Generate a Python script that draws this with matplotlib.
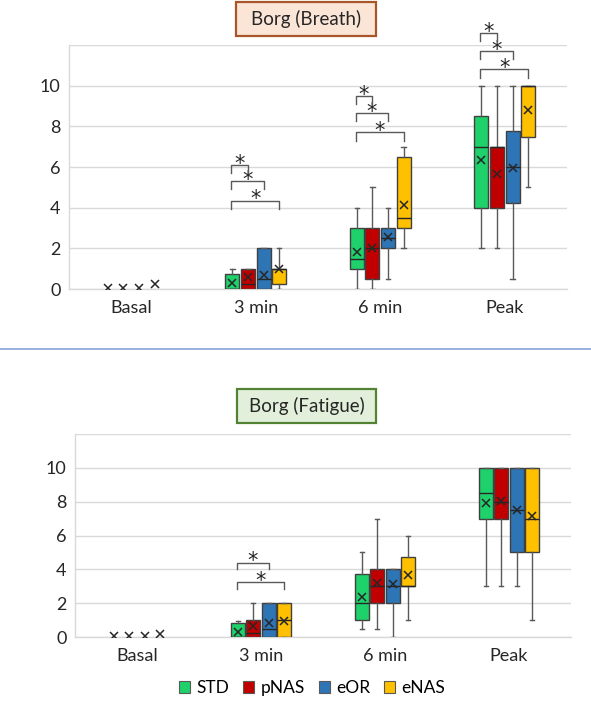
import matplotlib
matplotlib.use("Agg")
import matplotlib.pyplot as plt
from matplotlib.patches import Rectangle, Patch
from matplotlib.lines import Line2D

plt.rcParams['font.family'] = ['Lato', 'DejaVu Sans']

categories = ['Basal', '3 min', '6 min', 'Peak']
series = ['STD', 'pNAS', 'eOR', 'eNAS']
colors = ['#1ED16B', '#C00000', '#2E75B6', '#FFC000']

# ---- Borg (Breath) ----
breath_whislo = {'STD': [0, 0, 0, 2], 'pNAS': [0, 0, 0, 2], 'eOR': [0, 0, 0.5, 0.5], 'eNAS': [0, 0, 2, 5]}
breath_q1 = {'STD': [0, 0, 1, 4], 'pNAS': [0, 0, 0.5, 4], 'eOR': [0, 0, 2, 4.25], 'eNAS': [0, 0.25, 3, 7.5]}
breath_med = {'STD': [0, 0, 1.5, 7], 'pNAS': [0, 0.25, 2, 7], 'eOR': [0, 0.5, 2.5, 6], 'eNAS': [0, 1, 3.5, 10]}
breath_q3 = {'STD': [0, 0.75, 3, 8.5], 'pNAS': [0, 1, 3, 7], 'eOR': [0, 2, 3, 7.75], 'eNAS': [0, 1, 6.5, 10]}
breath_whishi = {'STD': [0, 1, 4, 10], 'pNAS': [0, 1, 5, 10], 'eOR': [0, 2, 4, 10], 'eNAS': [0, 2, 7, 10]}
breath_mean = {'STD': [0.03, 0.3, 1.8, 6.35], 'pNAS': [0.03, 0.6, 2.0, 5.65], 'eOR': [0.03, 0.7, 2.55, 5.95], 'eNAS': [0.25, 1.0, 4.15, 8.8]}
# significance brackets: (category, from, to, top level)
breath_sig = [('3 min', 'STD', 'pNAS', 6.1), ('3 min', 'STD', 'eOR', 5.3), ('3 min', 'STD', 'eNAS', 4.35),
              ('6 min', 'STD', 'pNAS', 9.5), ('6 min', 'STD', 'eOR', 8.65), ('6 min', 'STD', 'eNAS', 7.7),
              ('Peak', 'STD', 'pNAS', 12.6), ('Peak', 'STD', 'eOR', 11.7), ('Peak', 'STD', 'eNAS', 10.8)]

# ---- Borg (Fatigue) ----
fat_whislo = {'STD': [0, 0, 0.5, 3], 'pNAS': [0, 0, 0.5, 3], 'eOR': [0, 0, 0, 3], 'eNAS': [0, 0, 1, 1]}
fat_q1 = {'STD': [0, 0, 1, 7], 'pNAS': [0, 0, 2, 7], 'eOR': [0, 0, 2, 5], 'eNAS': [0, 0, 3, 5]}
fat_med = {'STD': [0, 0, 2, 8.5], 'pNAS': [0, 0.25, 3, 8], 'eOR': [0, 0.5, 3, 7.5], 'eNAS': [0, 1, 3, 7]}
fat_q3 = {'STD': [0, 0.85, 3.75, 10], 'pNAS': [0, 1, 4, 10], 'eOR': [0, 2, 4, 10], 'eNAS': [0, 2, 4.75, 10]}
fat_whishi = {'STD': [0, 0.95, 5, 10], 'pNAS': [0, 2, 7, 10], 'eOR': [0, 2, 4, 10], 'eNAS': [0, 2, 6, 10]}
fat_mean = {'STD': [0.05, 0.3, 2.35, 7.95], 'pNAS': [0.05, 0.65, 3.2, 8.05], 'eOR': [0.05, 0.8, 3.15, 7.5], 'eNAS': [0.15, 0.95, 3.65, 7.15]}
fat_sig = [('3 min', 'STD', 'eOR', 4.4), ('3 min', 'STD', 'eNAS', 3.25)]

yticks = [0, 2, 4, 6, 8, 10, 12]
ytick_labels = ['0', '2', '4', '6', '8', '10', '']

W, H = 591, 702
fig = plt.figure(figsize=(W / 100, H / 100), dpi=100)

OFFSET = 0.125
BOXW = 0.112
GRID = '#D9D9D9'
EDGE = '#404040'


def pos(ci, si):
    return ci + (si - 1.5) * OFFSET


def draw(ax, whislo, q1, med, q3, whishi, mean, sig, drop):
    for si, s in enumerate(series):
        stats, positions = [], []
        for ci in range(len(categories)):
            if whishi[s][ci] == 0 and q3[s][ci] == 0:
                continue
            stats.append(dict(whislo=whislo[s][ci], q1=q1[s][ci], med=med[s][ci],
                              q3=q3[s][ci], whishi=whishi[s][ci], fliers=[]))
            positions.append(pos(ci, si))
        ax.bxp(stats, positions=positions, widths=BOXW, patch_artist=True,
               showfliers=False, capwidths=0.035,
               boxprops=dict(facecolor=colors[si], edgecolor=EDGE, linewidth=1.0),
               medianprops=dict(color='#262626', linewidth=1.0),
               whiskerprops=dict(color='#595959', linewidth=1.0),
               capprops=dict(color='#595959', linewidth=1.0), zorder=3)
        ax.plot([pos(ci, si) for ci in range(len(categories))], mean[s], linestyle='none',
                marker='x', markersize=6, markeredgewidth=1.1, color='#262626', zorder=5)
    for cat, a, b, top in sig:
        ci = categories.index(cat)
        x0 = pos(ci, series.index(a)) - 0.01
        x1 = pos(ci, series.index(b))
        ax.plot([x0, x0, x1, x1], [top - drop, top, top, top - drop], color='#595959',
                linewidth=1.0, clip_on=False, zorder=4)
        ax.annotate('*', xy=((x0 + x1) / 2, top), xytext=(0, -3.5), textcoords='offset points',
                    ha='center', va='baseline', fontsize=15, color='#262626',
                    annotation_clip=False, family=['DejaVu Sans'])
    ax.set_xlim(-0.5, len(categories) - 0.5)
    ax.set_ylim(0, 12)
    ax.set_yticks(yticks)
    ax.set_yticklabels(ytick_labels)
    ax.set_xticks(range(len(categories)))
    ax.set_xticklabels(categories)
    ax.tick_params(axis='both', length=0, labelsize=13, colors='#262626')
    ax.tick_params(axis='y', pad=6)
    ax.tick_params(axis='x', pad=8)
    ax.yaxis.grid(True, color=GRID, linewidth=1.0, zorder=0)
    ax.set_axisbelow(True)
    for sp in ['top', 'right']:
        ax.spines[sp].set_visible(False)
    for sp in ['left', 'bottom']:
        ax.spines[sp].set_color(GRID)
        ax.spines[sp].set_linewidth(1.0)


ax1 = fig.add_axes([69 / W, (H - 289) / H, 498 / W, 244 / H])
draw(ax1, breath_whislo, breath_q1, breath_med, breath_q3, breath_whishi, breath_mean, breath_sig, 0.4)

ax2 = fig.add_axes([75 / W, (H - 637) / H, 496 / W, 203 / H])
draw(ax2, fat_whislo, fat_q1, fat_med, fat_q3, fat_whishi, fat_mean, fat_sig, 0.4)


def title_box(x0, y0, x1, y1, text, face, edge):
    fig.patches.append(Rectangle((x0 / W, (H - y1) / H), (x1 - x0) / W, (y1 - y0) / H,
                                 transform=fig.transFigure, facecolor=face, edgecolor=edge,
                                 linewidth=1.6))
    fig.text((x0 + x1) / 2 / W, (H - (y0 + y1) / 2) / H, text, ha='center', va='center',
             fontsize=13.5, color='#262626')


title_box(236, 2, 376, 36, 'Borg (Breath)', '#FBE5D6', '#A65628')
title_box(237, 389, 376, 423, 'Borg (Fatigue)', '#E2EFDA', '#548235')

fig.add_artist(Line2D([0, 1], [(H - 349) / H] * 2, transform=fig.transFigure,
                      color='#8FAADC', linewidth=1.3))

handles = [Patch(facecolor=c, edgecolor='#595959', linewidth=0.8) for c in colors]
fig.legend(handles, series, loc='center', bbox_to_anchor=(312 / W, (H - 688) / H),
           ncol=4, frameon=False, fontsize=12.5, handlelength=0.65, handleheight=0.65,
           handletextpad=0.35, columnspacing=0.8, borderaxespad=0)

fig.savefig('out.png', dpi=100)
